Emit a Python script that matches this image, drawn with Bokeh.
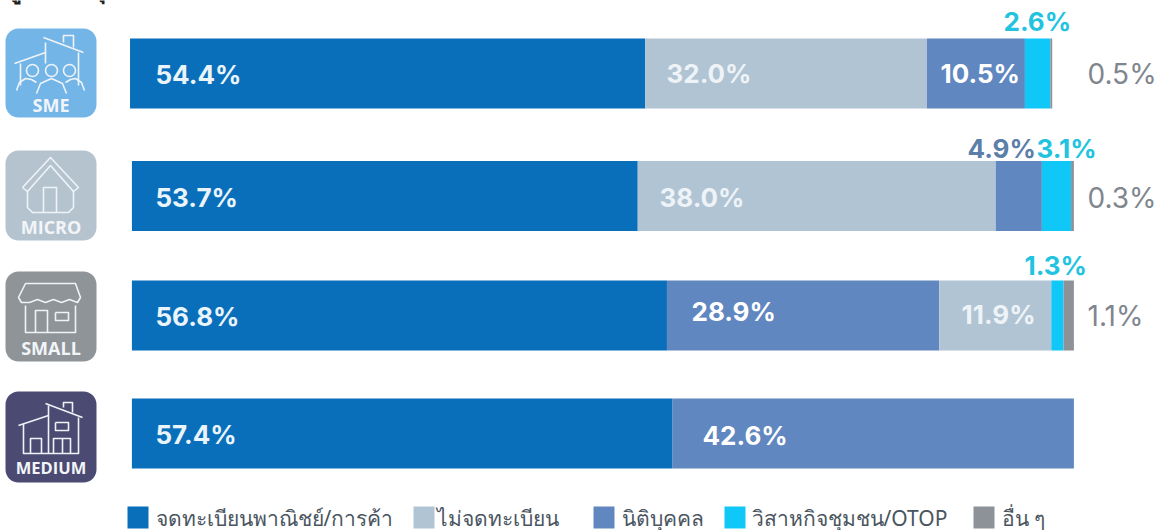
from bokeh.plotting import figure
from bokeh.models import Range1d
from bokeh.core.properties import value
from bokeh.embed import file_html
from bokeh.resources import INLINE

rows = ["SME", "MICRO", "SMALL", "MEDIUM"]
series = ["จดทะเบียนพาณิชย์/การค้า", "ไม่จดทะเบียน", "นิติบุคคล", "วิสาหกิจชุมชน/OTOP", "อื่น ๆ"]
colors = ["#0A6FBB", "#B1C4D4", "#6087C0", "#10C8F8", "#8D9299"]

# drawn segment lengths (percentage points as seen in the picture; SME's 32.0% is drawn short in the source)
registered = [54.7, 53.7, 56.8, 57.4]
unregistered = [29.9, 38.0, 11.9, 0.0]
juristic = [10.4, 4.9, 28.9, 42.6]
community = [2.7, 3.1, 1.3, 0.0]
others = [0.2, 0.3, 1.1, 0.0]
# stack order differs for SMALL/MEDIUM: juristic comes before unregistered
stack_orders = [[0, 1, 2, 3, 4], [0, 1, 2, 3, 4], [0, 2, 1, 3, 4], [0, 2, 1, 3, 4]]
bar_start = [-0.2, 0.0, 0.0, 0.0]

labels_registered = ["54.4%", "53.7%", "56.8%", "57.4%"]
labels_unregistered = ["32.0%", "38.0%", "11.9%", ""]
labels_juristic = ["10.5%", "4.9%", "28.9%", "42.6%"]
labels_community = ["2.6%", "3.1%", "1.3%", ""]
labels_others = ["0.5%", "0.3%", "1.1%", ""]

W, H = 1157, 530
X0, PX_PER_PCT = 131.4, 9.42
LATIN = "Inter"
THAI = "Noto Sans"

p = figure(width=W, height=H, output_backend="svg", toolbar_location=None,
           x_range=Range1d(-X0 / PX_PER_PCT, (W - X0) / PX_PER_PCT),
           y_range=Range1d(H, 0), min_border=0, outline_line_color=None,
           background_fill_color="white", border_fill_color="white", margin=(0, 0, 0, 0))
p.axis.visible = False
p.grid.visible = False
p.extra_x_ranges["px"] = Range1d(0, W)

centers = [73, 195.5, 315, 433]
bar_h = 70
values = [registered, unregistered, juristic, community, others]
for r in range(4):
    left = bar_start[r]
    for s in stack_orders[r]:
        v = values[s][r]
        if v > 0:
            p.hbar(y=[centers[r]], left=[left], right=[left + v], height=bar_h,
                   color=colors[s], line_color=None)
        left += v


def txt(x, y, t, color, size=26, weight="bold", align="left", font=LATIN):
    p.text(x=[x], y=[y], text=[t], x_range_name="px", text_color=color,
           text_font=value(font), text_font_size=f"{size}px", text_font_style=weight,
           text_align=align, text_baseline="middle")


white, g = "#FFFFFF", "#7F868E"
# inner labels
for r in range(4):
    txt(155, centers[r] + 1, labels_registered[r], "#EAF5FB")
txt(666, 73, labels_unregistered[0], "#EEF3F7")
txt(940, 73, labels_juristic[0], white)
txt(659, 197, labels_unregistered[1], "#EEF3F7")
txt(691, 311, labels_juristic[2], white)
txt(961, 314, labels_unregistered[2], "#EEF3F7")
txt(702, 435, labels_juristic[3], white)
# outer labels
txt(1003, 21, labels_community[0], "#22C3DF")
txt(967, 148, labels_juristic[1], "#5B7FA8")
txt(1036, 148, labels_community[1], "#22C3DF")
txt(1024, 265, labels_community[2], "#22C3DF")
txt(1087, 73, labels_others[0], g, size=28, weight="normal")
txt(1087, 197, labels_others[1], g, size=28, weight="normal")
txt(1087, 315, labels_others[2], g, size=28, weight="normal")

# legend
lx = [127, 413, 593, 724, 973]
tx = [155, 436, 621, 751, 1001]
for i in range(5):
    p.quad(left=[lx[i]], right=[lx[i] + 21], top=[506], bottom=[528], x_range_name="px",
           color=colors[i], line_color=None)
    txt(tx[i], 517, series[i], "#4A5560", size=21, weight="normal", font=THAI)

# top-left heading, cropped by the page edge
txt(7, -14, "รูปแบบธุรกิจ", "#222222", size=26, weight="bold", font=THAI)

# icons
icon_boxes = [(5, 28, 96, 117), (5, 150, 96, 240), (5, 271, 96, 361), (5, 391, 96, 482)]
icon_cols = ["#74B5E8", "#B5C3CF", "#8F9498", "#4B4A73"]
icon_sizes = [18, 18, 18, 16.5]
icon_off = [13, 14, 14, 15]
for (l, t, r_, b), c, n, sz, off in zip(icon_boxes, icon_cols, rows, icon_sizes, icon_off):
    p.quad(left=[l], right=[r_], top=[t], bottom=[b], x_range_name="px", fill_color=c,
           line_color=None, border_radius=13)
    txt((l + r_) / 2, b - off, n, "#F2F5F8", size=sz, weight="bold", align="center", font="Open Sans")

lw = 1.6
lc = "#EEF3F8"


def lines(xs, ys):
    p.line(x=xs, y=ys, x_range_name="px", line_color=lc, line_width=lw, line_join="round")


def circ(x, y, rad):
    p.scatter(x=[x], y=[y], size=rad * 2, x_range_name="px", marker="circle",
              fill_color=None, line_color=lc, line_width=lw)


# SME icon
lines([43, 83], [37, 52])
lines([63, 63, 73, 73], [42, 35, 35, 47])
lines([14, 45], [63, 52])
lines([45, 45], [42, 63])
lines([78, 78], [52, 85])
lines([20, 20], [63, 85])
for cx in [32, 51, 69]:
    circ(cx, 70, 6)
lines([16, 19, 25, 31, 36], [90, 82, 78, 79, 82])
lines([36, 40, 51, 62, 66], [93, 83, 78, 83, 93])
lines([65, 70, 75, 81, 84], [82, 79, 78, 82, 90])

# MICRO icon
lines([22, 50, 78, 73, 50, 27, 22], [187, 157, 187, 191, 165, 191, 187])
lines([27, 27, 32, 68, 73, 73], [190, 207, 212, 212, 207, 190])
lines([43, 43, 56, 56], [212, 187, 187, 212])

# SMALL icon
lines([25, 75, 80, 77, 69, 61, 53, 45, 37, 29, 21, 18, 25],
      [283, 283, 297, 302, 299, 302, 299, 302, 299, 302, 302, 297, 283])
lines([25, 25, 75, 75], [305, 332, 332, 305])
lines([35, 35, 47, 47], [332, 310, 310, 332])
lines([55, 68, 68, 55, 55], [312, 312, 320, 320, 312])

# MEDIUM icon
lines([45, 82], [403, 417])
lines([63, 63, 72, 72], [407, 402, 402, 412])
lines([18, 48], [425, 415])
lines([48, 48], [405, 453])
lines([23, 23, 78, 78], [423, 453, 453, 417])
lines([30, 30, 41, 41], [453, 438, 438, 453])
lines([53, 53, 70, 70], [453, 438, 438, 453])
lines([62, 62], [438, 453])
lines([55, 68, 68, 55, 55], [422, 422, 430, 430, 422])

open("out.html", "w").write(file_html(p, INLINE))
